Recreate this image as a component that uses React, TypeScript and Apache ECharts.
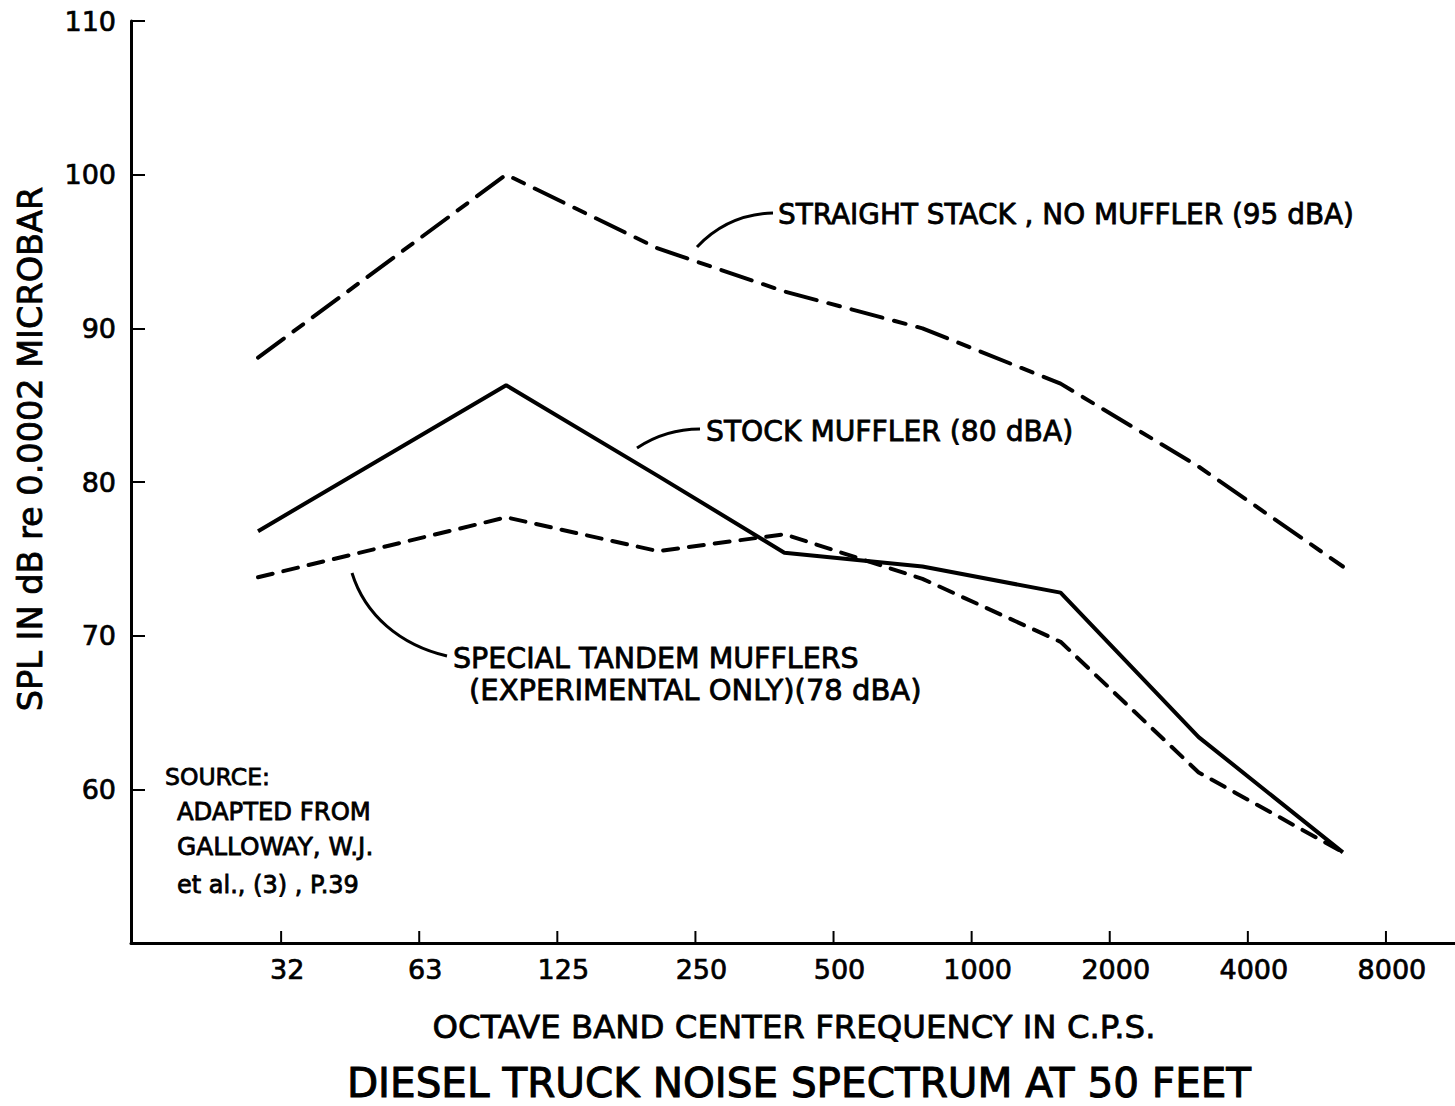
import { useEffect, useRef } from 'react';
import * as echarts from 'echarts';

// Octave band tick labels (nominal centre frequencies, c.p.s.)
const tickLabels = ['32', '63', '125', '250', '500', '1000', '2000', '4000', '8000'];
// Frequencies (c.p.s.) at which the curves are plotted
const bandFrequencies = [28.5, 99, 212, 400, 800, 1600, 3200, 6600];
// SPL in dB re 0.0002 microbar
const straightStack = [88.1, 100.0, 95.2, 92.4, 90.0, 86.4, 81.0, 74.5];
const stockMuffler = [76.8, 86.3, 80.4, 75.4, 74.5, 72.8, 63.4, 55.9];
const tandemMufflers = [73.8, 77.7, 75.5, 76.6, 73.7, 69.6, 61.1, 55.9];

const FONT = '"DejaVu Sans", "Liberation Sans", sans-serif';
const Y_MIN = 50;

const octave = (f: number) => Math.log2(f / 32);
const pairs = (vals: number[]) => bandFrequencies.map((f, i) => [octave(f), vals[i]]);

export default function App() {
  const ref = useRef<HTMLDivElement>(null);
  useEffect(() => {
    if (!ref.current) return;
    const chart = echarts.init(ref.current, null, { renderer: 'svg' });
    const txt = (text: string, x: number, y: number, size: number, extra: any = {}) => ({
      type: 'text',
      x,
      y,
      style: {
        text,
        font: `${size}px ${FONT}`,
        fill: '#000',
        stroke: '#000',
        lineWidth: 0.8,
        textVerticalAlign: 'middle',
        ...extra,
      },
    });
    const curve = (x1: number, y1: number, c1x: number, c1y: number, c2x: number, c2y: number, x2: number, y2: number) => ({
      type: 'bezierCurve',
      shape: { x1, y1, cpx1: c1x, cpy1: c1y, cpx2: c2x, cpy2: c2y, x2, y2 },
      style: { stroke: '#000', lineWidth: 3, fill: 'none' },
    });
    const tickIdx = tickLabels.map((_, i) => i);
    chart.setOption({
      animation: false,
      backgroundColor: '#fff',
      grid: { left: 131, right: 0, top: 21, bottom: 163, containLabel: false },
      xAxis: {
        type: 'value',
        min: -1.087,
        max: 8.5,
        axisLine: { show: true, onZero: false, lineStyle: { color: '#000', width: 3 } },
        axisTick: { show: false },
        axisLabel: {
          customValues: tickIdx,
          formatter: (v: number) => tickLabels[Math.round(v)] ?? '',
          margin: 13,
          padding: [0, 0, 0, 12],
          color: '#000',
          fontFamily: FONT,
          fontSize: 27,
          textBorderColor: '#000',
          textBorderWidth: 0.7,
        },
        splitLine: { show: false },
      },
      yAxis: {
        type: 'value',
        min: Y_MIN,
        max: 110,
        interval: 10,
        axisLine: { show: true, onZero: false, lineStyle: { color: '#000', width: 3 } },
        axisTick: { show: true, inside: true, length: 14, lineStyle: { color: '#000', width: 2 } },
        axisLabel: {
          formatter: (v: number) => (v === Y_MIN ? '' : String(v)),
          margin: 15,
          color: '#000',
          fontFamily: FONT,
          fontSize: 27,
          textBorderColor: '#000',
          textBorderWidth: 0.7,
        },
        splitLine: { show: false },
      },
      series: [
        {
          name: 'Octave ticks',
          type: 'custom',
          clip: false,
          silent: true,
          data: tickIdx.map((i) => [i, Y_MIN]),
          renderItem: (_params: any, api: any) => {
            const p = api.coord([api.value(0), api.value(1)]);
            return {
              type: 'line',
              shape: { x1: p[0], y1: p[1], x2: p[0], y2: p[1] - 12 },
              style: { stroke: '#000', lineWidth: 2 },
            };
          },
        },
        {
          name: 'Straight stack, no muffler (95 dBA)',
          type: 'line',
          data: pairs(straightStack),
          symbol: 'none',
          lineStyle: { color: '#000', width: 4, type: [32, 12, 12, 12], cap: 'round' },
        },
        {
          name: 'Stock muffler (80 dBA)',
          type: 'line',
          data: pairs(stockMuffler),
          symbol: 'none',
          lineStyle: { color: '#000', width: 4, type: 'solid' },
        },
        {
          name: 'Special tandem mufflers (78 dBA)',
          type: 'line',
          data: pairs(tandemMufflers),
          symbol: 'none',
          lineStyle: { color: '#000', width: 4, type: [15, 11], cap: 'round' },
        },
      ],
      graphic: [
        txt('STRAIGHT STACK , NO MUFFLER (95 dBA)', 778, 214, 27.9),
        txt('STOCK MUFFLER (80 dBA)', 706, 431, 28.2),
        txt('SPECIAL TANDEM MUFFLERS', 453, 658, 28.5),
        txt('(EXPERIMENTAL ONLY)(78 dBA)', 469, 690, 29),
        txt('SOURCE:', 165, 777, 23.5),
        txt('ADAPTED FROM', 177, 811, 24.3),
        txt('GALLOWAY, W.J.', 177, 846, 24.8),
        txt('et al., (3) , P.39', 177, 885, 24),
        txt('OCTAVE BAND CENTER FREQUENCY IN C.P.S.', 794, 1027, 32.4, { textAlign: 'center' }),
        txt('DIESEL TRUCK NOISE SPECTRUM AT 50 FEET', 799, 1083, 40.5, { textAlign: 'center', lineWidth: 1 }),
        {
          type: 'text',
          x: 30,
          y: 449,
          rotation: Math.PI / 2,
          style: {
            text: 'SPL IN dB re 0.0002 MICROBAR',
            font: `33.5px ${FONT}`,
            fill: '#000',
            stroke: '#000',
            lineWidth: 0.8,
            textAlign: 'center',
            textVerticalAlign: 'middle',
          },
        },
        curve(697, 247, 715, 228, 740, 214, 773, 213),
        curve(637, 448, 655, 436, 675, 429, 700, 429),
        curve(352, 573, 365, 615, 400, 645, 447, 656),
      ],
    });
    return () => chart.dispose();
  }, []);
  return (
    <div
      ref={ref}
      style={{ position: 'fixed', left: 0, top: 0, width: 1455, height: 1106, background: '#fff' }}
    />
  );
}
